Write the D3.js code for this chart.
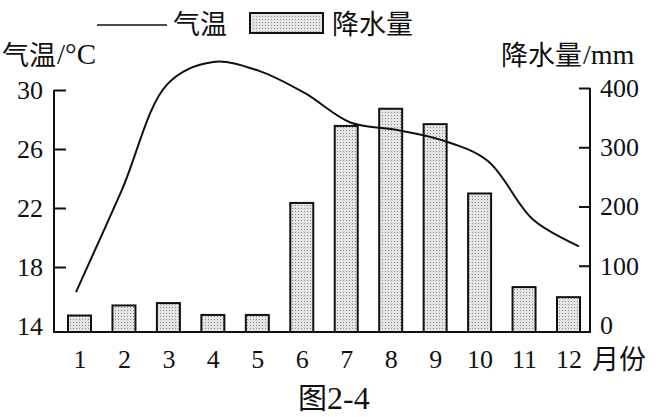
<!DOCTYPE html>
<html>
<head>
<meta charset="utf-8">
<script src="https://cdn.jsdelivr.net/npm/d3@7"></script>
<style>
  html, body { margin: 0; padding: 0; background: #fff; }
  svg { display: block; }
</style>
</head>
<body>
<svg id="chart" width="668" height="417"></svg>
<script>
// ---- data ----
const months = [1, 2, 3, 4, 5, 6, 7, 8, 9, 10, 11, 12];
const precipitation = [16, 33, 37, 17, 17, 206, 336, 365, 339, 222, 64, 47];   // mm
const temperature = [16.3, 23.2, 30.4, 31.9, 31.3, 29.8, 27.8, 27.3, 26.6, 25.2, 21.2, 19.4]; // °C
const tempTicks = [14, 18, 22, 26, 30];
const precipTicks = [0, 100, 200, 300, 400];

const SERIF = '"Liberation Serif", "Times New Roman", "Tinos"';
const CJK = '"Noto Sans CJK SC"';

const svg = d3.select("#chart");
const leftX = 54, rightX = 590, baseY = 332;

// ---- scales ----
const xBar = d3.scalePoint().domain(months).range([79.5, 568.5]);
const xLine = d3.scaleLinear().domain([1, 12]).range([76, 579]);
const yT = d3.scaleLinear().domain([14, 30]).range([326, 90]);
const yP = d3.scaleLinear().domain([0, 400]).range([325, 88]);
const barW = 23;

// ---- pattern for stippled bars ----
const defs = svg.append("defs");
const pat = defs.append("pattern").attr("id", "stipple")
  .attr("patternUnits", "userSpaceOnUse").attr("width", 3).attr("height", 3);
pat.append("rect").attr("width", 3).attr("height", 3).attr("fill", "#e4e4e4");
pat.append("rect").attr("x", 1).attr("y", 1).attr("width", 1).attr("height", 1).attr("fill", "#8c8c8c");

// ---- bars ----
svg.append("g").selectAll("rect")
  .data(months)
  .join("rect")
  .attr("x", (d) => xBar(d) - barW / 2)
  .attr("y", (d, i) => yP(precipitation[i]))
  .attr("width", barW)
  .attr("height", (d, i) => baseY - yP(precipitation[i]))
  .attr("fill", "url(#stipple)")
  .attr("stroke", "#111")
  .attr("stroke-width", 2);

// ---- temperature line ----
const line = d3.line()
  .x((d, i) => xLine(months[i]))
  .y((d) => yT(d))
  .curve(d3.curveCatmullRom.alpha(0.5));
svg.append("path")
  .datum(temperature)
  .attr("d", line)
  .attr("fill", "none")
  .attr("stroke", "#111")
  .attr("stroke-width", 2);

// ---- axes ----
const axisLine = svg.append("g").attr("stroke", "#111").attr("stroke-width", 2);
axisLine.append("line").attr("x1", leftX).attr("x2", leftX).attr("y1", yT(30)).attr("y2", baseY + 1);
axisLine.append("line").attr("x1", rightX).attr("x2", rightX).attr("y1", yP(400)).attr("y2", baseY + 1);
axisLine.append("line").attr("x1", leftX - 1).attr("x2", rightX + 1).attr("y1", baseY).attr("y2", baseY);

function styleNum(sel) {
  sel.attr("font-size", 26).attr("fill", "#111")
    .attr("font-family", SERIF).style("font-family", SERIF);
}

const gL = svg.append("g").attr("transform", `translate(${leftX},0)`)
  .call(d3.axisLeft(yT).tickValues(tempTicks).tickSize(-12).tickPadding(11).tickSizeOuter(0));
gL.attr("font-family", null);
gL.select(".domain").remove();
gL.selectAll(".tick line").attr("stroke", "#111").attr("stroke-width", 2)
  .filter((d) => d === 14).remove();
gL.selectAll(".tick text").call(styleNum);

const gR = svg.append("g").attr("transform", `translate(${rightX},0)`)
  .call(d3.axisRight(yP).tickValues(precipTicks).tickSize(-11).tickPadding(10).tickSizeOuter(0));
gR.attr("font-family", null);
gR.select(".domain").remove();
gR.selectAll(".tick line").attr("stroke", "#111").attr("stroke-width", 2)
  .filter((d) => d === 0).remove();
gR.selectAll(".tick text").call(styleNum);

const gB = svg.append("g").attr("transform", `translate(0,${baseY})`)
  .call(d3.axisBottom(xBar).tickSize(0).tickPadding(18));
gB.attr("font-family", null);
gB.select(".domain").remove();
gB.selectAll(".tick text").call(styleNum);

// ---- titles ----
function cjkText(x, y, size, str) {
  return svg.append("text").attr("x", x).attr("y", y)
    .attr("dominant-baseline", "central").attr("font-size", size).attr("fill", "#111")
    .style("font-family", CJK).text(str);
}
function serifText(x, y, size, str) {
  return svg.append("text").attr("x", x).attr("y", y)
    .attr("dominant-baseline", "central").attr("font-size", size).attr("fill", "#111")
    .style("font-family", SERIF).text(str);
}

cjkText(2, 53, 27, "气温");
serifText(57, 54, 29, "/°C");

cjkText(501, 53, 27, "降水量");
serifText(583, 54, 28, "/mm");

cjkText(592, 357, 27, "月份");

cjkText(298, 396, 29, "图");
serifText(327, 398, 32, "2-4");

// ---- legend ----
const lg = svg.append("g");
lg.append("line").attr("x1", 97).attr("x2", 167).attr("y1", 25).attr("y2", 25)
  .attr("stroke", "#111").attr("stroke-width", 1.6);
cjkText(173, 22, 27, "气温");
lg.append("rect").attr("x", 250).attr("y", 13).attr("width", 73).attr("height", 20)
  .attr("fill", "url(#stipple)").attr("stroke", "#111").attr("stroke-width", 2);
cjkText(332, 22, 27, "降水量");
</script>
</body>
</html>
